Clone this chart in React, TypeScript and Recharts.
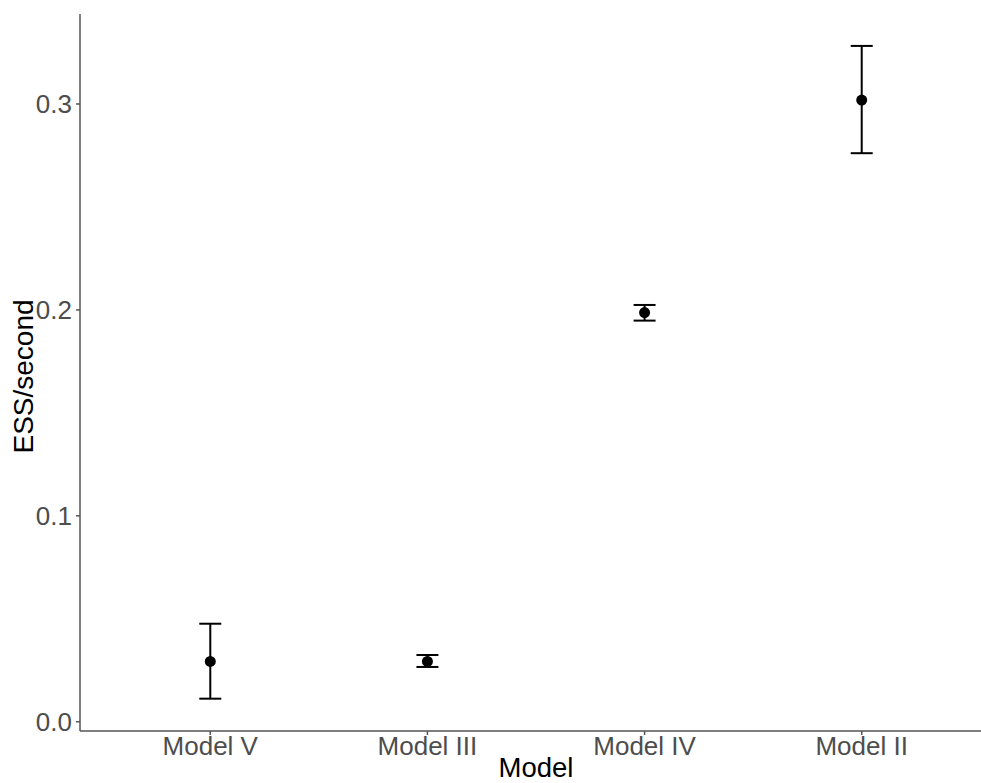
import {
  ComposedChart,
  ErrorBar,
  Scatter,
  XAxis,
  YAxis,
} from "recharts";

const models = ["Model V", "Model III", "Model IV", "Model II"];
const essPerSecond = [0.0293, 0.0293, 0.1987, 0.3019];
const lowerBound = [0.0112, 0.0266, 0.1948, 0.2761];
const upperBound = [0.0476, 0.0324, 0.2024, 0.3282];
const yTicks = [0, 0.1, 0.2, 0.3];

const rows = models.map((name, i) => ({
  pos: i + 1,
  name,
  ess: essPerSecond[i],
  err: [essPerSecond[i] - lowerBound[i], upperBound[i] - essPerSecond[i]],
}));

const FONT = "'Liberation Sans', Arial, Helvetica, sans-serif";
const AXIS_GREY = "#4d4d4d";

function Dot(props: any) {
  return <circle cx={props.cx} cy={props.cy} r={5.5} fill="#000" />;
}

function XTitle({ viewBox }: any) {
  const cx = viewBox.x + viewBox.width / 2;
  return (
    <text x={cx} y={777} textAnchor="middle" fontSize={27.5} fontFamily={FONT} fill="#000">
      Model
    </text>
  );
}

function YTitle({ viewBox }: any) {
  const cy = viewBox.y + viewBox.height / 2 + 4;
  return (
    <text
      x={33}
      y={cy}
      textAnchor="middle"
      fontSize={28}
      fontFamily={FONT}
      fill="#000"
      transform={`rotate(-90, 33, ${cy})`}
    >
      ESS/second
    </text>
  );
}

export default function App() {
  return (
    <div style={{ position: "absolute", left: 0, top: 0, width: 981, height: 783, overflow: "hidden", background: "#fff" }}>
      <ComposedChart
        width={993}
        height={783}
        data={rows}
        margin={{ top: 14, right: 1, bottom: 0, left: 0 }}
      >
        <XAxis
          dataKey="pos"
          type="number"
          domain={[0.4, 4.6]}
          ticks={[1, 2, 3, 4]}
          tickFormatter={(v: number) => models[v - 1]}
          allowDataOverflow
          height={52}
          tickSize={4}
          tickMargin={2}
          stroke="#555"
          strokeWidth={1.5}
          tick={{ fontSize: 26, fontFamily: FONT, fill: AXIS_GREY }}
          label={<XTitle />}
        />
        <YAxis
          dataKey="ess"
          type="number"
          domain={[-0.0045, 0.3437]}
          ticks={yTicks}
          tickFormatter={(v: number) => v.toFixed(1)}
          allowDataOverflow
          width={80}
          tickSize={4}
          tickMargin={4}
          stroke="#555"
          strokeWidth={1.5}
          tick={{ fontSize: 26, fontFamily: FONT, fill: AXIS_GREY }}
          label={<YTitle />}
        />
        <Scatter dataKey="ess" shape={<Dot />} isAnimationActive={false}>
          <ErrorBar
            dataKey="err"
            direction="y"
            width={11}
            stroke="#000"
            strokeWidth={2}
            isAnimationActive={false}
          />
        </Scatter>
      </ComposedChart>
    </div>
  );
}
